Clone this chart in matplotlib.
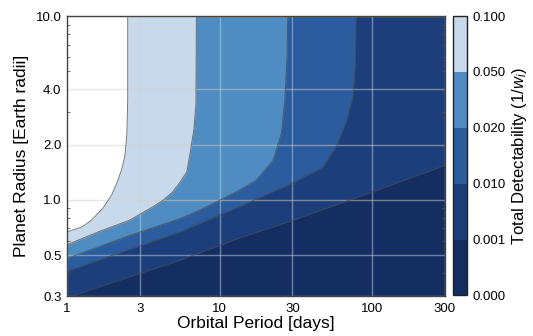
import numpy as np
import matplotlib
matplotlib.use('Agg')
import matplotlib.pyplot as plt
from matplotlib.colors import ListedColormap, BoundaryNorm
from matplotlib.cm import ScalarMappable
from matplotlib.ticker import FixedLocator, FixedFormatter, NullLocator, LogLocator

plt.rcParams['font.family'] = ['Liberation Sans', 'DejaVu Sans']
plt.rcParams['mathtext.fontset'] = 'custom'
plt.rcParams['mathtext.it'] = 'Liberation Sans:italic'
plt.rcParams['mathtext.rm'] = 'Liberation Sans'

# contour levels of the total detectability and the colours between them
levels = [0.0, 0.001, 0.01, 0.02, 0.05, 0.1]
level_labels = ['0.000', '0.001', '0.010', '0.020', '0.050', '0.100']
band_colors = ['#142e61', '#1c3f7b', '#2a5c9e', '#4e8cc1', '#c8d9ec']

# contour boundaries (period [days], radius [Earth radii])
period_0100 = [1.0, 1.24, 1.42, 1.72, 1.97, 2.16, 2.3, 2.4, 2.47, 2.5, 2.5]
radius_0100 = [0.67, 0.71, 0.765, 0.90, 1.07, 1.28, 1.5, 1.75, 2.3, 3.5, 10.0]

period_0050 = [1.0, 1.64, 2.57, 3.0, 3.6, 4.26, 4.9, 5.44, 6.1, 6.45, 6.8, 7.0, 7.05]
radius_0050 = [0.57, 0.675, 0.775, 0.835, 0.91, 0.995, 1.1, 1.23, 1.42, 1.85, 2.45, 3.3, 10.0]

period_0020 = [1.0, 2.57, 5.48, 7.4, 10.0, 13.5, 17.4, 22.4, 25.4, 26.8, 27.7, 28.0]
radius_0020 = [0.48, 0.64, 0.79, 0.88, 0.995, 1.13, 1.28, 1.64, 2.29, 3.5, 6.0, 10.0]

period_0010 = [1.0, 5.48, 13.5, 30.3, 47.6, 59.0, 68.0, 75.0, 77.5, 78.5]
radius_0010 = [0.41, 0.67, 0.92, 1.24, 1.51, 2.0, 2.7, 3.7, 5.5, 10.0]

period_0001 = [1.08, 5.48, 13.5, 30.3, 98.8, 300.0]
radius_0001 = [0.3, 0.469, 0.62, 0.774, 1.10, 1.54]

xmin, xmax = 1, 300
ymin, ymax = 0.3, 10

curves = [(period_0100, radius_0100), (period_0050, radius_0050),
          (period_0020, radius_0020), (period_0010, radius_0010),
          (period_0001, radius_0001)]

fig = plt.figure(figsize=(5.33, 3.36), dpi=100)
ax = fig.add_axes([0.1257, 0.119, 0.709, 0.833])
cax = fig.add_axes([0.850, 0.121, 0.026, 0.831])

# paint from the highest level down, each band fills lower-right of its boundary
for k, (P, R) in enumerate(curves):
    P = list(P)
    R = list(R)
    if R[0] > ymin:
        P = [xmin] + P
        R = [ymin] + R
    if R[-1] < ymax:
        P = P + [xmax]
        R = R + [ymax]
    col = band_colors[len(band_colors) - 1 - k]
    ax.fill_betweenx(R, P, xmax, color=col, lw=0, zorder=1)
for P, R in curves:
    ax.plot(P, R, color='#4a4a4a', lw=0.7, alpha=0.75, zorder=3)

ax.set_xscale('log')
ax.set_yscale('log')
ax.set_xlim(xmin, xmax)
ax.set_ylim(ymin, ymax)

xt = [1, 3, 10, 30, 100, 300]
yt = [0.3, 0.5, 1.0, 2.0, 4.0, 10.0]
ax.xaxis.set_major_locator(FixedLocator(xt))
ax.xaxis.set_major_formatter(FixedFormatter([str(v) for v in xt]))
ax.xaxis.set_minor_locator(NullLocator())
ax.yaxis.set_major_locator(FixedLocator(yt))
ax.yaxis.set_major_formatter(FixedFormatter(['%.1f' % v for v in yt]))
ax.yaxis.set_minor_locator(LogLocator(subs=np.arange(2, 10)))
ax.yaxis.set_minor_formatter(FixedFormatter([]))

ax.grid(True, which='major', color='#d0d0d0', alpha=0.5, lw=1.0, zorder=2)
ax.tick_params(which='both', direction='in', right=True, top=False, colors='#555555',
               labelcolor='black', labelsize=9.5)
ax.tick_params(axis='x', which='major', length=0, pad=5)
ax.tick_params(axis='y', which='major', length=0, pad=4)
ax.tick_params(which='minor', length=2.5, width=0.6)
for s in ax.spines.values():
    s.set_color('#444444')
    s.set_linewidth(1.0)

ax.set_xlabel('Orbital Period [days]', fontsize=12.5, labelpad=1)
ax.set_ylabel('Planet Radius [Earth radii]', fontsize=12.5, labelpad=5)

cmap = ListedColormap(band_colors)
norm = BoundaryNorm(levels, cmap.N)
sm = ScalarMappable(norm=norm, cmap=cmap)
cb = fig.colorbar(sm, cax=cax, spacing='uniform', ticks=levels)
cb.ax.set_yticklabels(level_labels)
cb.ax.tick_params(length=0, labelsize=9.5, pad=4)
cb.outline.set_color('#222222')
cb.outline.set_linewidth(1.0)
cb.set_label('Total Detectability (1/$w_i$)', fontsize=12, labelpad=3)

fig.savefig('out.png', dpi=100)
